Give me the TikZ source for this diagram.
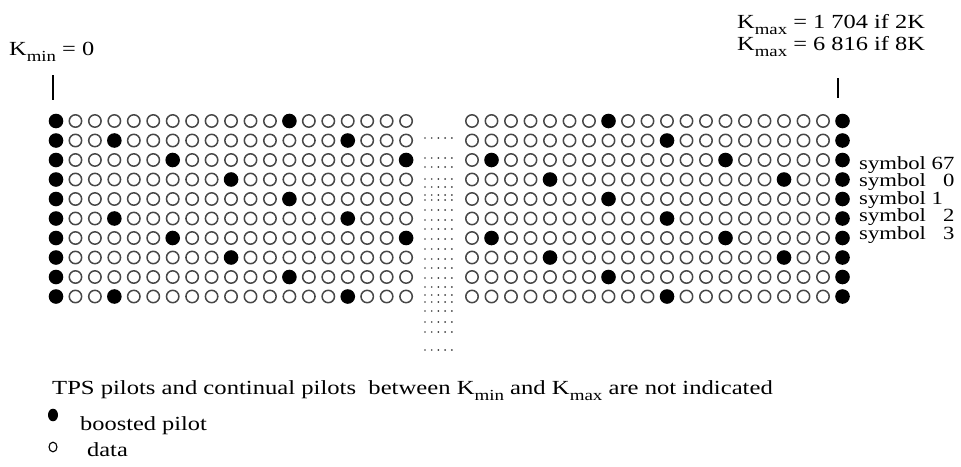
\documentclass[tikz,border=0pt]{standalone}
\usepackage{fontspec}
\setmainfont{Liberation Serif}[FakeStretch=1.22]
\newcommand{\ksub}[1]{\raisebox{-6pt}{\fontsize{15.4pt}{16pt}\selectfont #1}}
\begin{document}
\begin{tikzpicture}[x=1pt,y=-1pt,
  datac/.style={draw=black!72, line width=1.5pt, fill=white},
  pilotc/.style={fill=black},
  lbl/.style={font=\fontsize{20pt}{22pt}\selectfont, inner sep=0pt, anchor=base west},
  sym/.style={font=\fontsize{18.6pt}{20pt}\selectfont, inner sep=0pt, anchor=base west},
  tick/.style={line width=1.3pt},
  dotc/.style={fill=black!75}]
\path[use as bounding box, fill=white] (0,0) rectangle (961,466);

% left block: 19 columns
\foreach \r in {0,...,9}{
  \pgfmathtruncatemacro{\s}{3*mod(\r,4)}
  \foreach \c in {0,...,18}{
    \pgfmathtruncatemacro{\p}{(\c==0)+(mod(\c,12)==\s)}
    \ifnum\p>0
      \fill[pilotc] (56+19.45*\c,121+19.5*\r) circle (7.3pt);
    \else
      \draw[datac] (56+19.45*\c,121+19.5*\r) circle (6.2pt);
    \fi
  }
}
% right block: 20 columns
\foreach \r in {0,...,9}{
  \pgfmathtruncatemacro{\s}{mod(3*mod(\r,4)+7,12)}
  \foreach \c in {0,...,19}{
    \pgfmathtruncatemacro{\p}{(\c==19)+(mod(\c,12)==\s)}
    \ifnum\p>0
      \fill[pilotc] (472+19.5*\c,121+19.5*\r) circle (7.3pt);
    \else
      \draw[datac] (472+19.5*\c,121+19.5*\r) circle (6.2pt);
    \fi
  }
}
% dotted ellipsis column
\foreach \y in {138,158,167,179,187,195,200,210,220,229,239,249,259,268,278,287,295,302,311,322,332,350}{
  \foreach \i in {0,...,4}{
    \fill[dotc] (425+6.7*\i,\y) circle (0.95pt);
  }
}

% top labels and ticks
\node[lbl] (kmin) at (9,55) {K\ksub{min} = 0};
\node[lbl] (kmaxa) at (737,28.3) {K\ksub{max} = 1 704 if 2K};
\node[lbl] (kmaxb) at (737,50) {K\ksub{max} = 6 816 if 8K};
\coordinate (lt1) at (53,75);
\coordinate (lt2) at (53,100);
\coordinate (rt1) at (838,78);
\coordinate (rt2) at (838,98);
\draw[tick] (lt1) -- (lt2);
\draw[tick] (rt1) -- (rt2);

% symbol labels
\node[sym] (s67) at (859,169) {symbol 67};
\node[sym] (s0) at (859,186) {symbol \phantom{6}0};
\node[sym] (s1) at (859,204) {symbol 1};
\node[sym] (s2) at (859,221) {symbol \phantom{6}2};
\node[sym] (s3) at (859,239) {symbol \phantom{6}3};

% note and legend
\node[lbl] (note) at (52,394) {\scalebox{1.01}[1]{TPS pilots and continual pilots\ \ between K\ksub{min} and K\ksub{max} are not indicated}};
\fill (53,415) ellipse [x radius=5pt, y radius=6.3pt];
\node[lbl] (lbp) at (80,430) {boosted pilot};
\draw[line width=1.1pt] (53,447) ellipse [x radius=4pt, y radius=4.8pt];
\node[lbl] (ldata) at (87,456) {data};
\end{tikzpicture}
\end{document}
